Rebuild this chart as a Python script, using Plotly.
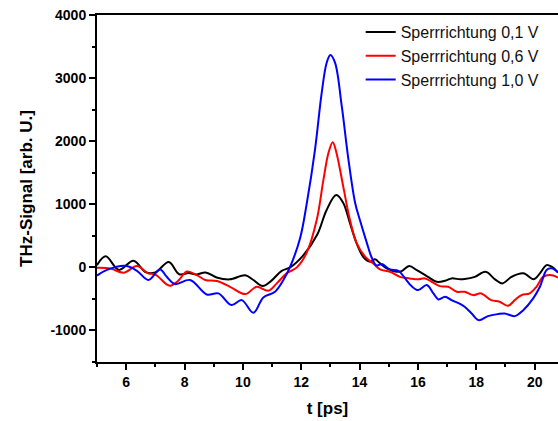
import plotly.graph_objects as go

# Sperrrichtung 0,1 V (black)
t_01 = [5.0, 5.3, 5.75, 6.25, 6.68, 7.0, 7.46, 7.82, 8.15, 8.4, 8.72, 9.1, 9.55, 10.08, 10.36,
        10.68, 10.98, 11.33, 11.62, 12.07, 12.55, 12.87, 13.2, 13.44, 13.67, 13.9, 14.15, 14.36,
        14.53, 14.7, 14.93, 15.27, 15.44, 15.7, 15.96, 16.3, 16.64, 16.93, 17.15, 17.44, 17.6,
        17.95, 18.32, 18.64, 18.89, 19.21, 19.61, 19.97, 20.18, 20.41, 20.58, 20.8]
v_01 = [35, 175, -40, 105, -80, -80, 85, -110, -90, -115, -80, -160, -190, -125, -200,
        -295, -210, -55, 0, 190, 520, 910, 1145, 1020, 700, 380, 150, 90,
        127, 63, -16, -70, -59, 20, -43, -138, -228, -212, -175, -190, -186,
        -150, -70, -190, -254, -150, -95, -190, -95, 36, 10, -80]

# Sperrrichtung 0,6 V (red)
t_06 = [5.0, 5.45, 5.91, 6.37, 6.76, 6.99, 7.39, 7.52, 7.79, 8.08, 8.42, 8.71, 9.11, 9.56, 10.08,
        10.47, 10.87, 11.16, 11.5, 11.85, 12.19, 12.53, 12.76, 12.93, 13.08, 13.21, 13.44, 13.67,
        13.9, 14.19, 14.47, 14.7, 15.04, 15.38, 15.72, 16.01, 16.24, 16.47, 16.75, 17.04, 17.33,
        17.6, 17.89, 18.17, 18.51, 18.8, 19.09, 19.32, 19.55, 19.83, 20.06, 20.29, 20.52, 20.8]
v_06 = [-5, -16, -85, 20, -95, -111, -270, -290, -210, -65, -122, -200, -217, -308, -424,
        -308, -371, -254, -95, 0, 235, 750, 1386, 1810, 1985, 1810, 1280, 750,
        380, 170, 60, -32, -70, -150, -175, -190, -175, -228, -297, -308, -387,
        -387, -440, -413, -519, -546, -609, -519, -440, -413, -308, -150, -122, -160]

# Sperrrichtung 1,0 V (blue)
t_10 = [5.0, 5.34, 5.97, 6.37, 6.76, 7.16, 7.39, 7.67, 8.19, 8.76, 9.16, 9.61, 9.96, 10.36, 10.7,
        11.1, 11.39, 11.62, 11.96, 12.19, 12.47, 12.7, 12.87, 13.0, 13.16, 13.39, 13.62, 13.85,
        14.01, 14.24, 14.41, 14.58, 14.76, 15.04, 15.33, 15.56, 15.78, 16.01, 16.3, 16.53, 16.7,
        16.93, 17.15, 17.41, 17.6, 17.84, 18.08, 18.4, 18.74, 18.97, 19.32, 19.61, 19.95, 20.18,
        20.41, 20.58, 20.8]
v_10 = [-130, -40, 25, -54, -200, -32, -150, -265, -200, -429, -413, -598, -519, -720, -476,
        -387, -200, 10, 460, 1015, 1860, 2760, 3240, 3365, 3240, 2550, 1700, 1015,
        750, 400, 160, 30, 52, -32, -54, -175, -297, -360, -281, -413, -508,
        -466, -519, -571, -625, -730, -836, -773, -741, -730, -773, -678, -492, -308,
        -43, -16, -80]

x_tickvals = [6, 8, 10, 12, 14, 16, 18, 20]
x_ticktext = ["6", "8", "10", "12", "14", "16", "18", "20"]
y_tickvals = [-1000, 0, 1000, 2000, 3000, 4000]
y_ticktext = ["-1000", "0", "1000", "2000", "3000", "4000"]

series = [
    ("Sperrrichtung 0,1 V", t_01, v_01, "#000000"),
    ("Sperrrichtung 0,6 V", t_06, v_06, "#ff0000"),
    ("Sperrrichtung 1,0 V", t_10, v_10, "#0000ff"),
]

fig = go.Figure()
for name, t, v, c in series:
    fig.add_trace(go.Scatter(x=t, y=v, mode="lines", name=name,
                             line=dict(color=c, width=2, shape="spline", smoothing=1)))

font_family = "Liberation Sans, Arial, sans-serif"
fig.update_layout(
    width=558, height=421,
    margin=dict(l=97, r=0, t=15, b=59),
    paper_bgcolor="white", plot_bgcolor="white",
    font=dict(family=font_family, color="black"),
    showlegend=True,
    legend=dict(x=0.572, y=1.0, xanchor="left", yanchor="top",
                bgcolor="rgba(0,0,0,0)", borderwidth=0,
                font=dict(size=16, family=font_family, color="#111"),
                tracegroupgap=0, itemwidth=30),
    xaxis=dict(range=[5, 20.8], showgrid=False, zeroline=False, automargin=False,
               showline=True, linecolor="black", linewidth=2, mirror=True,
               ticks="outside", ticklen=6, tickwidth=2, tickcolor="black",
               tickvals=x_tickvals, ticktext=x_ticktext,
               minor=dict(ticks="outside", ticklen=3, tickwidth=2, dtick=1, tick0=0, tickcolor="black"),
               tickfont=dict(size=14, family=font_family, weight="bold"),
               title=dict(text="<b>t [ps]</b>", font=dict(size=17, family=font_family), standoff=13)),
    yaxis=dict(range=[-1500, 4000], showgrid=False, zeroline=False, automargin=False,
               showline=True, linecolor="black", linewidth=2, mirror=False,
               ticks="outside", ticklen=6, tickwidth=2, tickcolor="black",
               tickvals=y_tickvals, ticktext=y_ticktext,
               minor=dict(ticks="outside", ticklen=3, tickwidth=2, dtick=500, tick0=0, tickcolor="black"),
               tickfont=dict(size=14, family=font_family, weight="bold"),
               title=dict(text="<b>THz-Signal [arb. U.]</b>", font=dict(size=17, family=font_family), standoff=13)),
)

fig.write_html("out.html", config={"displayModeBar": False},
               post_script="document.body.style.margin='0';document.body.style.overflow='hidden';")
